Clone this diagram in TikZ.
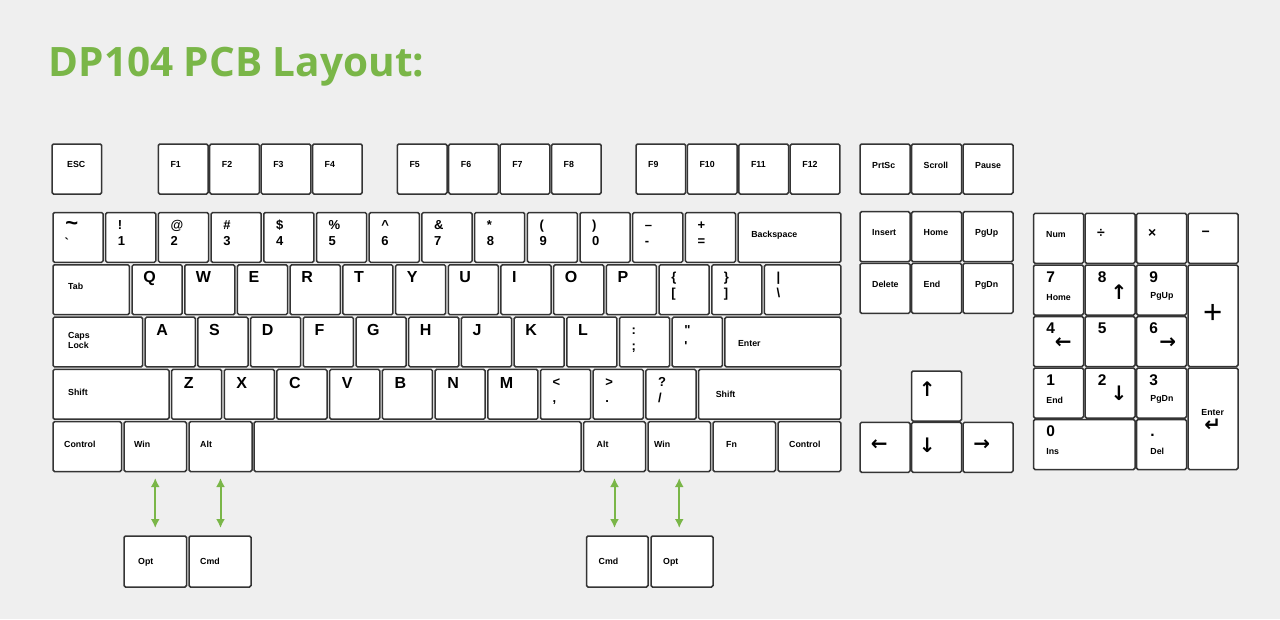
\documentclass[tikz,border=0pt]{standalone}
\usepackage{fontspec}
\newfontfamily\keyfont{Liberation Sans}
\newfontfamily\titlefont{Open Sans}
\newfontfamily\symfont{DejaVu Sans}
\usetikzlibrary{arrows.meta, calc, positioning}
\definecolor{dpGreen}{RGB}{122,182,72}
\definecolor{pageGray}{RGB}{239,239,239}
\definecolor{capEdge}{RGB}{52,52,52}
\tikzset{
    keycap/.style={rectangle, draw=capEdge, fill=white, line width=1.5pt, rounded corners=1.5pt, inner sep=0pt, outer sep=0pt},
    keytxt/.style={font=\keyfont\bfseries\fontsize{8.8}{10}\selectfont, inner sep=0pt},
    keybig/.style={font=\keyfont\bfseries\fontsize{16}{18}\selectfont, inner sep=0pt},
    keysym/.style={font=\keyfont\bfseries\fontsize{13}{14}\selectfont, inner sep=0pt},
    keynum/.style={font=\keyfont\bfseries\fontsize{15.5}{17}\selectfont, inner sep=0pt},
    keyop/.style={font=\keyfont\bfseries\fontsize{14}{16}\selectfont, inner sep=0pt},
    keyplus/.style={font=\keyfont\fontsize{33}{36}\selectfont, inner sep=0pt},
    keyarr/.style={font=\symfont\bfseries\fontsize{20}{22}\selectfont, inner sep=0pt},
    swapArrow/.style={{Latex[length=9pt,width=9pt]}-{Latex[length=9pt,width=9pt]}, draw=dpGreen, line width=2pt},
}
% key body: name, left, top, width, height
\newcommand{\drawKey}[6][]{
    \node[keycap, minimum width=#5pt, minimum height=#6pt, #1] (#2) at ({#3+#5/2}, {#4+#6/2}) {};
}
% text from the key's top left corner
\newcommand{\keyLbl}[4][keytxt]{
    \node[anchor=base west, #1] (#2-t) at ($(#2.north west)+(#3)$) {#4};
}
\newcommand{\keySub}[4][keytxt]{
    \node[anchor=base west, #1] (#2-s) at ($(#2.north west)+(#3)$) {#4};
}
\newcommand{\keyMark}[4][keyarr]{
    \node[#1] (#2-m) at ($(#2.north west)+(#3)$) {#4};
}
\newcommand{\keyDbl}[3]{
    \node[keysym, anchor=base west] (#1-u) at ($(#1.north west)+(12,17)$) {#2};
    \node[keysym, anchor=base west] (#1-l) at ($(#1.north west)+(12,33)$) {#3};
}

\begin{document}
\begin{tikzpicture}[x=1pt, y=-1pt]
    \fill[pageGray] (0,0) rectangle (1280,619);
    \useasboundingbox (0,0) rectangle (1280,619);

    \node[anchor=base west, inner sep=0pt, text=dpGreen, font=\titlefont\bfseries\fontsize{40.5}{46}\selectfont] (title) at (48.5,76.7) {DP104 PCB Layout:};

    % function row
    \drawKey{esc}{52}{144}{49.7}{50}
    \keyLbl{esc}{15,23.5}{ESC}
    \foreach \n/\x in {1/158.3, 2/209.7, 3/261.1, 4/312.5, 5/397.3, 6/448.7, 7/500.1, 8/551.5, 9/636, 10/687.4, 11/738.8, 12/790.2} {
        \drawKey{f\n}{\x}{144}{49.7}{50}
        \keyLbl{f\n}{12,23.5}{F\n}
    }

    % number row
    \drawKey{tilde}{53}{212.5}{50.1}{49.8}
    \node[keysym, font=\keyfont\bfseries\fontsize{22}{22}\selectfont] (tilde-u) at ($(tilde.north west)+(18.7,13.5)$) {\textasciitilde};
    \node[keysym] (tilde-l) at ($(tilde.north west)+(13.7,29.8)$) {`};
    \foreach \sa/\sb [count=\i] in {!/1, @/2, \#/3, \$/4, \%/5, \textasciicircum/6, \&/7, */8, \symbol{40}/9, \symbol{41}/0, –/-, +/=} {
        \pgfmathsetmacro\x{53+\i*52.7}
        \drawKey{num\i}{\x}{212.5}{50.1}{49.8}
        \keyDbl{num\i}{\sa}{\sb}
    }
    \drawKey{bksp}{738.1}{212.5}{102.8}{49.8}
    \keyLbl{bksp}{13,25}{Backspace}

    % top letter row
    \drawKey{tab}{53}{264.8}{76.45}{49.8}
    \keyLbl{tab}{15,24.5}{Tab}
    \foreach \t [count=\i from 0] in {Q,W,E,R,T,Y,U,I,O,P} {
        \pgfmathsetmacro\x{132.05+\i*52.7}
        \drawKey{k\t}{\x}{264.8}{50.1}{49.8}
        \keyLbl[keybig]{k\t}{11,18}{\t}
    }
    \drawKey{lbrk}{659.05}{264.8}{50.1}{49.8}
    \keyDbl{lbrk}{\{}{[}
    \drawKey{rbrk}{711.75}{264.8}{50.1}{49.8}
    \keyDbl{rbrk}{\}}{]}
    \drawKey{bslash}{764.45}{264.8}{76.45}{49.8}
    \keyDbl{bslash}{|}{\textbackslash}

    % home row
    \drawKey{caps}{53}{317.1}{89.6}{49.8}
    \keyLbl[keytxt, align=left, anchor=west]{caps}{15,23.6}{Caps\\Lock}
    \foreach \t [count=\i from 0] in {A,S,D,F,G,H,J,K,L} {
        \pgfmathsetmacro\x{145.225+\i*52.7}
        \drawKey{k\t}{\x}{317.1}{50.1}{49.8}
        \keyLbl[keybig]{k\t}{11,18}{\t}
    }
    \drawKey{semi}{619.5}{317.1}{50.1}{49.8}
    \keyDbl{semi}{:}{;}
    \drawKey{quote}{672.2}{317.1}{50.1}{49.8}
    \keyDbl{quote}{"}{'}
    \drawKey{enter}{724.9}{317.1}{116}{49.8}
    \keyLbl{enter}{13,29}{Enter}

    % bottom letter row
    \drawKey{lshift}{53}{369.4}{116}{49.8}
    \keyLbl{lshift}{15,25.6}{Shift}
    \foreach \t [count=\i from 0] in {Z,X,C,V,B,N,M} {
        \pgfmathsetmacro\x{171.575+\i*52.7}
        \drawKey{k\t}{\x}{369.4}{50.1}{49.8}
        \keyLbl[keybig]{k\t}{12,19}{\t}
    }
    \drawKey{comma}{540.5}{369.4}{50.1}{49.8}
    \keyDbl{comma}{<}{,}
    \drawKey{period}{593.2}{369.4}{50.1}{49.8}
    \keyDbl{period}{>}{.}
    \drawKey{slash}{645.9}{369.4}{50.1}{49.8}
    \keyDbl{slash}{?}{/}
    \drawKey{rshift}{698.6}{369.4}{142.3}{49.8}
    \keyLbl{rshift}{17,28}{Shift}

    % space row
    \drawKey{ctrlL}{53}{421.7}{68.5}{49.8}
    \keyLbl{ctrlL}{11,25.6}{Control}
    \drawKey{winL}{124}{421.7}{62.5}{49.8}
    \keyLbl{winL}{10,25.6}{Win}
    \drawKey{altL}{189}{421.7}{63}{49.8}
    \keyLbl{altL}{11,25.6}{Alt}
    \drawKey{space}{254}{421.7}{327}{49.8}
    \drawKey{altR}{583.5}{421.7}{62}{49.8}
    \keyLbl{altR}{13,26}{Alt}
    \drawKey{winR}{648}{421.7}{62.5}{49.8}
    \keyLbl{winR}{6,26}{Win}
    \drawKey{fn}{713}{421.7}{62.5}{49.8}
    \keyLbl{fn}{13,26}{Fn}
    \drawKey{ctrlR}{778}{421.7}{62.9}{49.8}
    \keyLbl{ctrlR}{11,26}{Control}

    % mac keys
    \drawKey{optL}{124}{536}{62.5}{51}
    \keyLbl{optL}{14,28}{Opt}
    \drawKey{cmdL}{189}{536}{62}{51}
    \keyLbl{cmdL}{11,28}{Cmd}
    \drawKey{cmdR}{586.5}{536}{61.5}{51}
    \keyLbl{cmdR}{12,28}{Cmd}
    \drawKey{optR}{651}{536}{62}{51}
    \keyLbl{optR}{12,28}{Opt}

    \draw[swapArrow, shorten <=6.5pt, shorten >=8pt] (winL.south) -- (winL.south |- optL.north);
    \draw[swapArrow, shorten <=6.5pt, shorten >=8pt] (altL.south) -- (altL.south |- cmdL.north);
    \draw[swapArrow, shorten <=6.5pt, shorten >=8pt] (altR.south) -- (altR.south |- cmdR.north);
    \draw[swapArrow, shorten <=6.5pt, shorten >=8pt] (winR.south) -- (winR.south |- optR.north);

    % navigation block
    \foreach \n/\x/\y/\t in {prtsc/860/144/PrtSc, scroll/911.5/144/Scroll, pause/963/144/Pause, ins/860/211.7/Insert, home/911.5/211.7/Home, pgup/963/211.7/PgUp, del/860/263.3/Delete, end/911.5/263.3/End, pgdn/963/263.3/PgDn} {
        \drawKey{\n}{\x}{\y}{50}{50}
        \keyLbl{\n}{12,24}{\t}
    }

    % cursor keys
    \drawKey{up}{911.5}{371}{50}{50}
    \keyMark{up}{15.8,18}{↑}
    \drawKey{left}{860}{422.3}{50}{50}
    \keyMark{left}{19.3,22.7}{←}
    \drawKey{down}{911.5}{422.3}{50}{50}
    \keyMark{down}{15.8,22.7}{↓}
    \drawKey{right}{963}{422.3}{50}{50}
    \keyMark{right}{18.7,22.7}{→}

    % number pad
    \drawKey{npnum}{1033.5}{213.3}{50}{50}
    \keyLbl{npnum}{12.5,24}{Num}
    \drawKey{npdiv}{1085}{213.3}{50}{50}
    \keyMark[keyop]{npdiv}{16,20}{÷}
    \drawKey{npmul}{1136.5}{213.3}{50}{50}
    \keyMark[keyop]{npmul}{15.8,20}{×}
    \drawKey{npsub}{1188}{213.3}{50}{50}
    \keyMark[keyop]{npsub}{17.7,20}{−}

    \drawKey{np7}{1033.5}{265}{50}{50}
    \keyLbl[keynum]{np7}{12.7,17}{7}
    \keySub{np7}{12.7,35}{Home}
    \drawKey{np8}{1085}{265}{50}{50}
    \keyLbl[keynum]{np8}{12.7,17}{8}
    \keyMark{np8}{34,27.3}{↑}
    \drawKey{np9}{1136.5}{265}{50}{50}
    \keyLbl[keynum]{np9}{12.7,17}{9}
    \keySub{np9}{13.7,33.5}{PgUp}
    \drawKey{npadd}{1188}{265}{50}{101.5}
    \keyMark[keyplus]{npadd}{24.7,49}{+}

    \drawKey{np4}{1033.5}{316.5}{50}{50}
    \keyLbl[keynum]{np4}{12.7,17}{4}
    \keyMark{np4}{29.8,26.8}{←}
    \drawKey{np5}{1085}{316.5}{50}{50}
    \keyLbl[keynum]{np5}{12.7,17}{5}
    \drawKey{np6}{1136.5}{316.5}{50}{50}
    \keyLbl[keynum]{np6}{12.7,17}{6}
    \keyMark{np6}{31.2,26.8}{→}

    \drawKey{np1}{1033.5}{368}{50}{50}
    \keyLbl[keynum]{np1}{12.7,17}{1}
    \keySub{np1}{12.7,35}{End}
    \drawKey{np2}{1085}{368}{50}{50}
    \keyLbl[keynum]{np2}{12.7,17}{2}
    \keyMark{np2}{34,25.3}{↓}
    \drawKey{np3}{1136.5}{368}{50}{50}
    \keyLbl[keynum]{np3}{12.7,17}{3}
    \keySub{np3}{13.7,33.5}{PgDn}
    \drawKey{npent}{1188}{368}{50}{101.5}
    \keyMark[keytxt]{npent}{24.7,44.3}{Enter}
    \keySub[keyarr, anchor=center]{npent}{24.7,57}{↵}

    \drawKey{np0}{1033.5}{419.5}{101.5}{50}
    \keyLbl[keynum]{np0}{12.7,17}{0}
    \keySub{np0}{12.7,35}{Ins}
    \drawKey{npdot}{1136.5}{419.5}{50}{50}
    \keyLbl[keynum]{npdot}{13.7,17}{.}
    \keySub{npdot}{13.7,35}{Del}
\end{tikzpicture}
\end{document}
